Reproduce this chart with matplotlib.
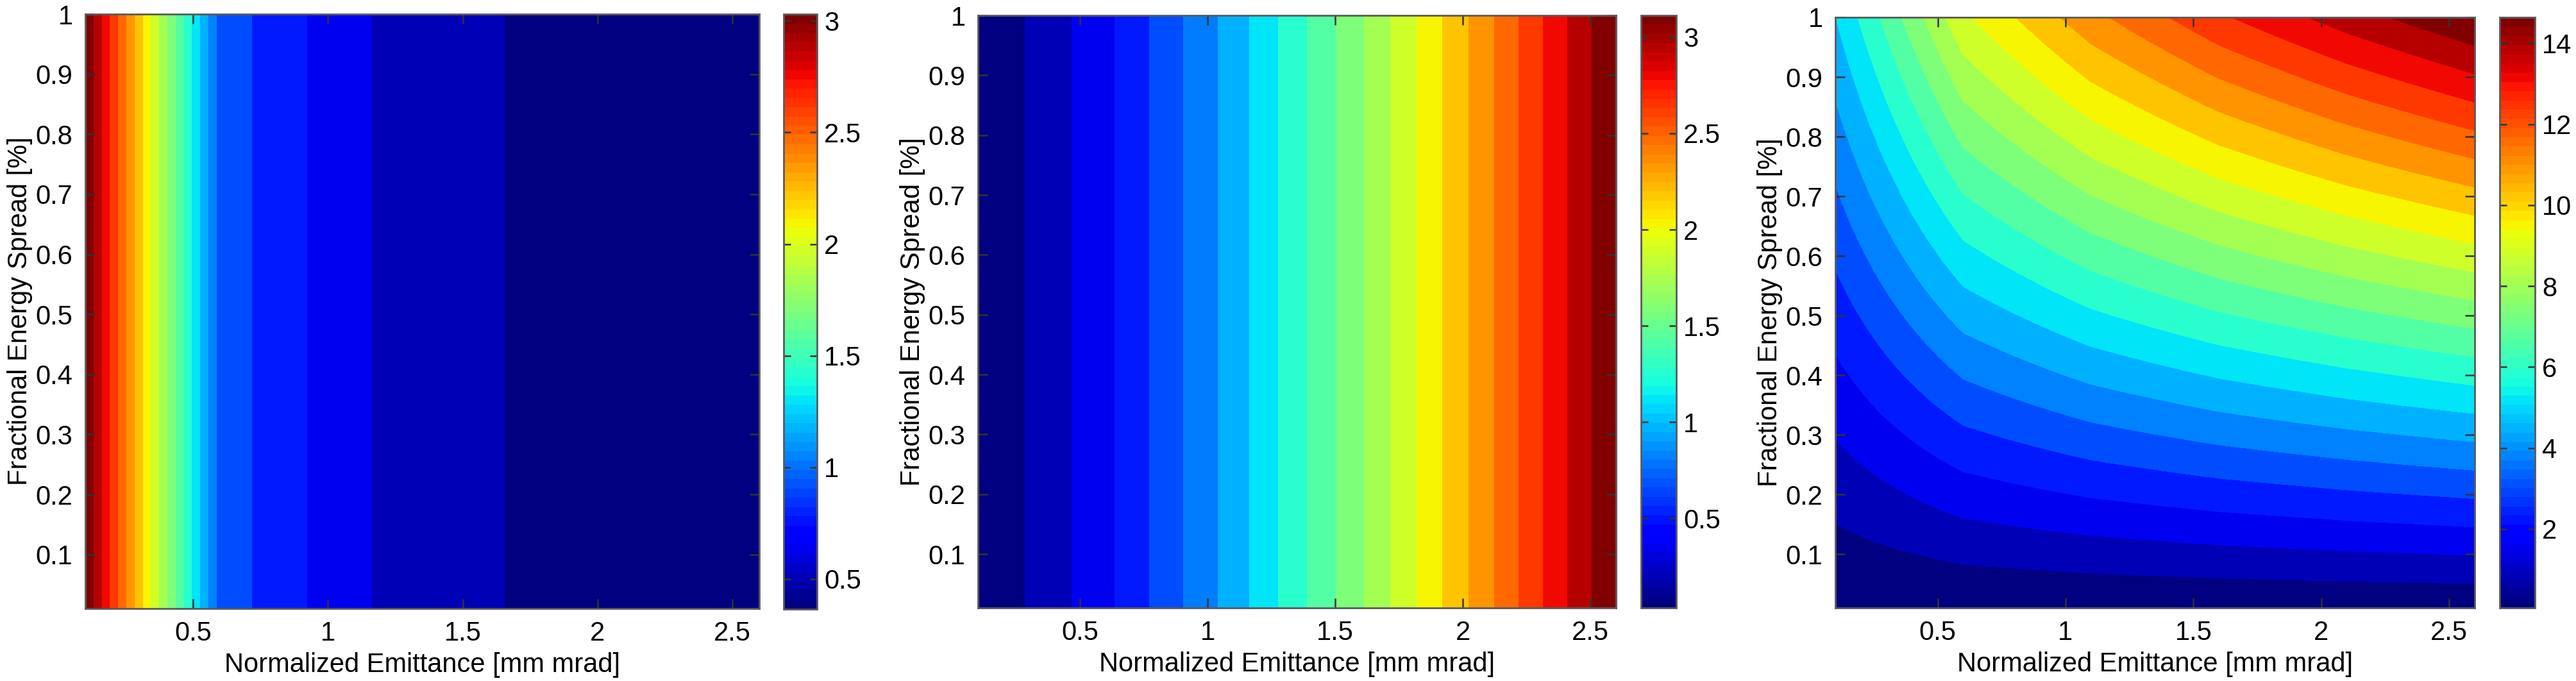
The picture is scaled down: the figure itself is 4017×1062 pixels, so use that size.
import numpy as np
import matplotlib
matplotlib.use("Agg")
import matplotlib.pyplot as plt
from matplotlib.colors import Normalize
from matplotlib.cm import ScalarMappable

# values at each emittance sample [mm mrad]
emittance = [0.1, 0.6, 1.1, 1.6, 2.1, 2.6]
spread_range = [0.01, 1.0]          # fractional energy spread [%]
left_panel = [3.03, 0.945, 0.635, 0.50, 0.418, 0.364]
middle_panel = [0.034, 0.435, 0.98, 1.628, 2.345, 3.113]
right_panel_per_spread = [4.90, 8.95, 10.96, 12.44, 13.61, 14.64]  # value at spread = 1 %

x_ticks = [0.5, 1, 1.5, 2, 2.5]
x_ticklabels = ['0.5', '1', '1.5', '2', '2.5']
y_ticks = [0.1, 0.2, 0.3, 0.4, 0.5, 0.6, 0.7, 0.8, 0.9, 1.0]
y_ticklabels = ['0.1', '0.2', '0.3', '0.4', '0.5', '0.6', '0.7', '0.8', '0.9', '1']
cb_ticks = [[0.5, 1, 1.5, 2, 2.5, 3], [0.5, 1, 1.5, 2, 2.5, 3], [2, 4, 6, 8, 10, 12, 14]]
cb_ticklabels = [['0.5', '1', '1.5', '2', '2.5', '3'], ['0.5', '1', '1.5', '2', '2.5', '3'],
                 ['2', '4', '6', '8', '10', '12', '14']]

plt.rcParams['font.family'] = ['Liberation Sans', 'DejaVu Sans']
FS = 30
N_LEVELS = 20
SPINE = '#5a5a5a'

W, H = 4017, 1062
fig = plt.figure(figsize=(W / 100, H / 100), dpi=100)

def box(l, r, t, b):
    return [l / W, 1 - b / H, (r - l) / W, (b - t) / H]

layout = [
    (box(133, 1184, 22, 949), box(1222, 1274, 22, 950)),
    (box(1525, 2520, 24, 948), box(2559, 2614, 24, 948)),
    (box(2862, 3859, 27, 948), box(3898, 3953, 27, 948)),
]

x = np.array(emittance)
y_flat = np.array(spread_range)
y_fine = np.linspace(spread_range[0], spread_range[1], 100)

fields = [
    (x, y_flat, np.tile(left_panel, (2, 1))),
    (x, y_flat, np.tile(middle_panel, (2, 1))),
    (x, y_fine, np.outer(y_fine, right_panel_per_spread)),
]

jet = plt.get_cmap('jet')
for i, ((xx, yy, Z), (apos, cpos)) in enumerate(zip(fields, layout)):
    ax = fig.add_axes(apos)
    zmin, zmax = Z.min(), Z.max()
    lv = np.linspace(zmin, zmax, N_LEVELS + 2)
    d = lv[1] - lv[0]
    # colour each band by its lower level, like matlab contourf
    norm = Normalize(vmin=lv[0] + d / 2, vmax=lv[-1] - d / 2)
    ax.contourf(xx, yy, Z, levels=lv, cmap=jet, norm=norm, extend='both', antialiased=False)
    ax.set_xlim(0.1, 2.6)
    ax.set_ylim(0.01, 1.0)
    ax.set_xticks(x_ticks)
    ax.set_xticklabels(x_ticklabels)
    ax.set_yticks(y_ticks)
    ax.set_yticklabels(y_ticklabels)
    ax.tick_params(direction='in', length=11, width=1.8, color='#333333', labelsize=FS,
                   top=True, right=True, pad=14)
    ax.set_xlabel('Normalized Emittance [mm mrad]', fontsize=FS, labelpad=6)
    ax.set_ylabel('Fractional Energy Spread [%]', fontsize=FS)
    ax.yaxis.set_label_coords(-82 / (apos[2] * W), 0.5)
    for s in ax.spines.values():
        s.set_color(SPINE)
        s.set_linewidth(2)

    cax = fig.add_axes(cpos)
    sm = ScalarMappable(norm=Normalize(zmin, zmax), cmap=plt.get_cmap('jet', 64))
    cb = fig.colorbar(sm, cax=cax)
    cb.set_ticks(cb_ticks[i])
    cb.set_ticklabels(cb_ticklabels[i])
    cb.ax.tick_params(axis='y', direction='in', length=8, width=1.8, color='#333333',
                      left=True, right=True, labelleft=False, labelright=True,
                      labelsize=FS, pad=8)
    cb.ax.minorticks_off()
    cb.outline.set_edgecolor(SPINE)
    cb.outline.set_linewidth(2)

fig.savefig('out.png', dpi=100)
